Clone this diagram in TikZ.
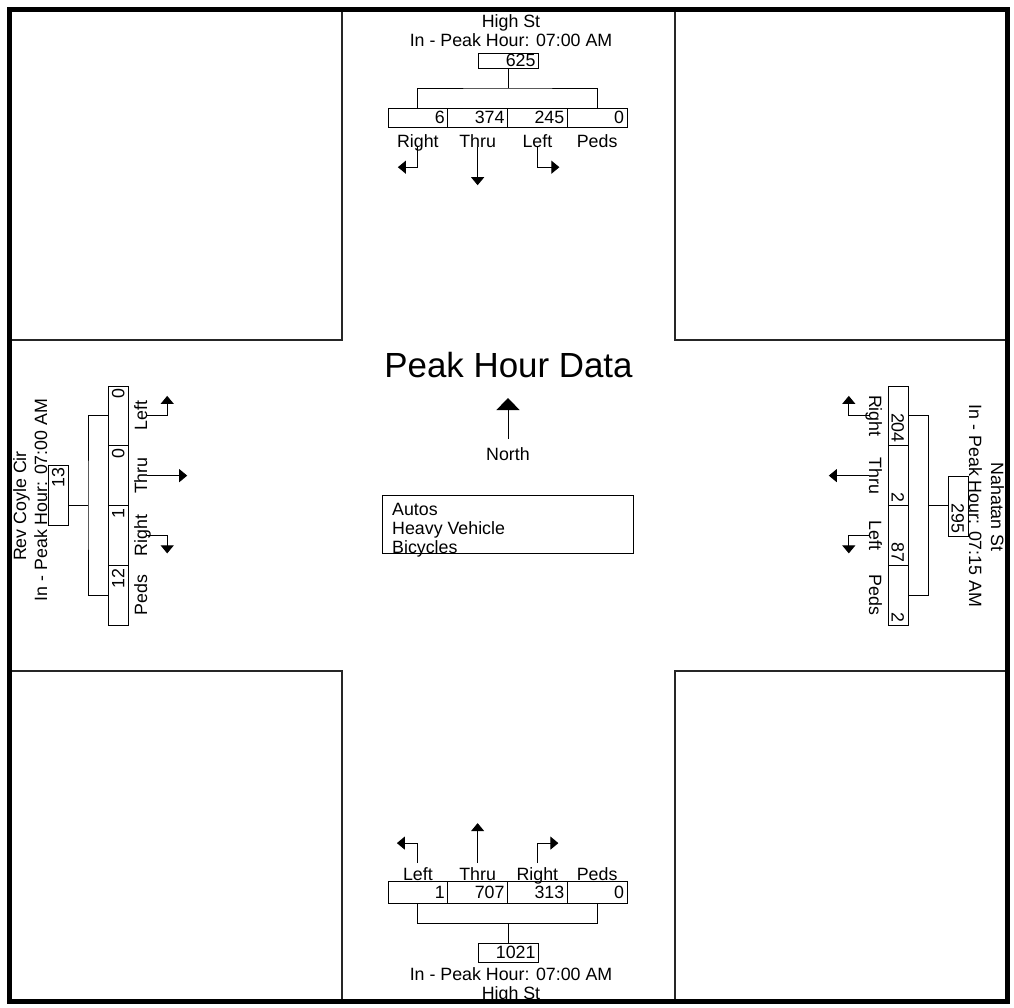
\documentclass[tikz,border=0pt]{standalone}
\usepackage{fontspec}
\setmainfont{Liberation Sans}
\usetikzlibrary{arrows.meta}
\tikzset{
  txt/.style={font=\fontsize{17.8}{20}\selectfont, inner sep=0pt},
  lbl/.style={txt, text height=12.7pt, text depth=0pt},
  cell/.style={draw, line width=1pt, lbl, inner xsep=3pt, inner ysep=0pt, text width=53.75pt, align=right, minimum height=19pt},
  inbox/.style={draw, line width=1pt, lbl, inner xsep=2.5pt, inner ysep=0pt, text width=55pt, align=right},
  link/.style={line width=1pt},
  arr/.style={line width=1pt, -{Triangle[width=13pt,length=8pt]}},
  road/.style={line width=1.2pt, black!85}
}
\begin{document}
\begin{tikzpicture}[x=1pt, y=-1pt]
  \useasboundingbox (0,0) rectangle (1014,1007);

  % corner blocks
  \draw[road] (10,10) rectangle (342,340);
  \draw[road] (675,10) rectangle (1007,340);
  \draw[road] (10,671) rectangle (342,1001);
  \draw[road] (675,671) rectangle (1007,1001);

  % title, north arrow, legend
  \node[font=\fontsize{34.9}{40}\selectfont, inner sep=0pt, anchor=base] (title) at (508.5,377) {Peak Hour Data};
  \node[lbl, anchor=base] (lblNorth) at (508,460) {North};
  \coordinate (northTip) at (508,398);
  \draw[line width=1pt, -{Triangle[width=23pt,length=12pt]}] ([yshift=8pt]lblNorth.north) -- (northTip);
  \node[draw, line width=1pt, minimum width=251pt, minimum height=58pt, inner sep=0pt] (legend) at (507.5,524) {};
  \node[txt, anchor=base west] (lgAutos) at (392,515) {Autos};
  \node[txt, anchor=base west] (lgHeavy) at (392,534) {Heavy Vehicle};
  \node[txt, anchor=base west] (lgBike) at (392,553) {Bicycles};

  % High St, north leg
  \node[txt, anchor=base] (nName) at (511,27) {High St};
  \node[txt, anchor=base] (nPeak) at (511,46) {In - Peak Hour: 07:00 AM};
  \node[inbox, minimum height=15pt] (nIn) at (508,60.5) {625};
  \foreach \v/\lab/\nm [count=\i from 0] in {6/Right/R, 374/Thru/T, 245/Left/L, 0/Peds/P} {
    \node[cell] (n\nm) at ({417.875+59.75*\i},117.5) {\v};
    \node[lbl, anchor=base] (nlab\nm) at ({417.875+59.75*\i},147) {\lab};
  }
  \coordinate (nBr) at (508,88);
  \draw[link] (nIn.south) -- (nBr);
  \draw[link] (nR.north) |- (nBr) -| (nP.north);
  \draw[arr] (nlabR.south) -- ++(0,20) -- ++(-20,0);
  \draw[arr] (nlabT.south) -- ++(0,38);
  \draw[arr] (nlabL.south) -- ++(0,20) -- ++(22,0);

  % High St, south leg
  \foreach \v/\lab/\nm [count=\i from 0] in {1/Left/L, 707/Thru/T, 313/Right/R, 0/Peds/P} {
    \node[cell, minimum height=22pt] (s\nm) at ({417.875+59.75*\i},892) {\v};
    \node[lbl, anchor=base] (slab\nm) at ({417.875+59.75*\i},880) {\lab};
  }
  \node[inbox, minimum height=19pt] (sIn) at (508,952.5) {1021};
  \node[txt, anchor=base] (sPeak) at (511,980) {In - Peak Hour: 07:00 AM};
  \node[txt, anchor=base] (sName) at (511,999) {High St};
  \coordinate (sBr) at (508,923);
  \draw[link] (sIn.north) -- (sBr);
  \draw[link] (sL.south) |- (sBr) -| (sP.south);
  \draw[arr] ([yshift=4pt]slabL.north) -- ++(0,-20) -- ++(-21,0);
  \draw[arr] ([yshift=4pt]slabT.north) -- ++(0,-40);
  \draw[arr] ([yshift=4pt]slabR.north) -- ++(0,-20) -- ++(21,0);

  % Rev Coyle Cir, west leg
  \node[txt, anchor=base, rotate=90] (wName) at (26,506) {Rev Coyle Cir};
  \node[txt, anchor=base, rotate=90] (wPeak) at (47,500) {In - Peak Hour: 07:00 AM};
  \node[inbox, minimum height=20pt, rotate=90] (wIn) at (58,495) {13};
  \foreach \v/\lab/\nm [count=\i from 0] in {0/Left/L, 0/Thru/T, 1/Right/R, 12/Peds/P} {
    \node[cell, minimum height=20pt, rotate=90] (w\nm) at (118,{415.875+59.75*\i}) {\v};
    \node[lbl, anchor=base, rotate=90] (wlab\nm) at (147,{415.875+59.75*\i}) {\lab};
  }
  \coordinate (wBr) at (88,505);
  \draw[link] (wIn.south |- wBr) -- (wBr);
  \draw[link] (wL.north) -| (wBr) |- (wP.north);
  \draw[arr] (wlabL.south) -- ++(20,0) -- ++(0,-20);
  \draw[arr] (wlabT.south) -- ++(40,0);
  \draw[arr] (wlabR.south) -- ++(20,0) -- ++(0,18);

  % Nahatan St, east leg
  \node[txt, anchor=base, rotate=-90] (eName) at (991,507) {Nahatan St};
  \node[txt, anchor=base, rotate=-90] (ePeak) at (969,506) {In - Peak Hour: 07:15 AM};
  \node[inbox, minimum height=20pt, rotate=-90] (eIn) at (958,506) {295};
  \foreach \v/\lab/\nm [count=\i from 0] in {204/Right/R, 2/Thru/T, 87/Left/L, 2/Peds/P} {
    \node[cell, minimum height=20pt, rotate=-90] (e\nm) at (898,{415.875+59.75*\i}) {\v};
    \node[lbl, anchor=base, rotate=-90] (elab\nm) at (869,{415.875+59.75*\i}) {\lab};
  }
  \coordinate (eBr) at (928,505);
  \draw[link] (eIn.south |- eBr) -- (eBr);
  \draw[link] (eR.north) -| (eBr) |- (eP.north);
  \draw[arr] (elabR.south) -- ++(-20,0) -- ++(0,-20);
  \draw[arr] (elabT.south) -- ++(-40,0);
  \draw[arr] (elabL.south) -- ++(-20,0) -- ++(0,18);

  % outer frame
  \draw[line width=4.5pt] (9.5,9.5) rectangle (1007.5,1001.5);
\end{tikzpicture}
\end{document}
